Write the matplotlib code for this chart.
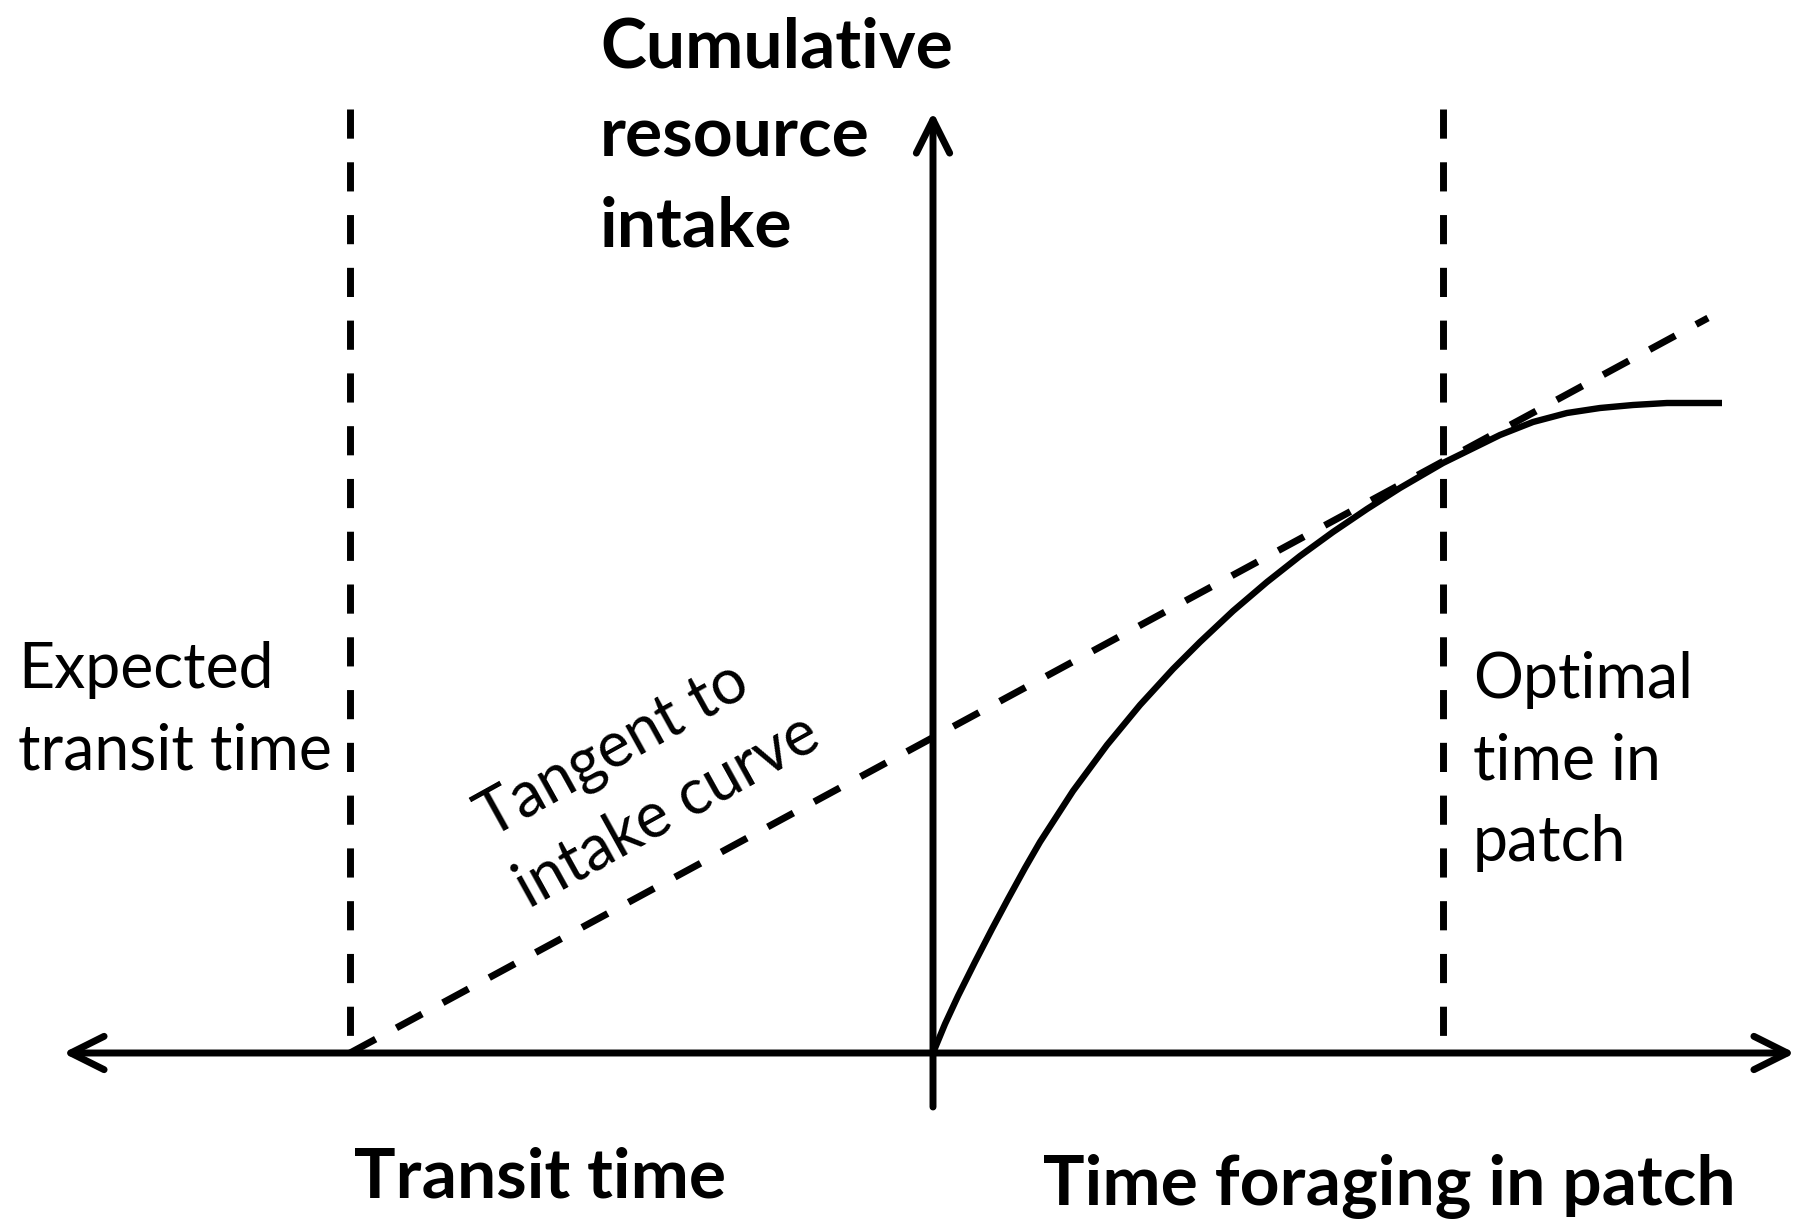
import matplotlib
matplotlib.use("Agg")
import matplotlib.pyplot as plt

plt.rcParams['lines.scale_dashes'] = False

# ---- data (time units, intake units) ----
curve_t = [0.00, 0.12, 0.25, 0.42, 0.59, 0.75, 0.92, 1.07, 1.40, 1.74, 2.07, 2.40, 2.67,
           3.00, 3.34, 3.67, 4.00, 4.34, 4.67, 5.10, 5.67, 6.00, 6.34, 6.67, 7.00, 7.34, 7.89]
curve_y = [0.00, 0.29, 0.57, 0.91, 1.24, 1.54, 1.85, 2.11, 2.62, 3.08, 3.48, 3.84, 4.11,
           4.42, 4.71, 4.97, 5.21, 5.44, 5.65, 5.90, 6.18, 6.31, 6.40, 6.45, 6.48, 6.50, 6.50]
tangent_t = [-5.83, 7.75]
tangent_y = [0.00, 7.35]
transit_t = -5.83
optimal_t = 5.10
vline_top = 9.44
xaxis_range = [-8.70, 8.62]
yaxis_range = [-0.54, 9.41]

fig = plt.figure(figsize=(17.98, 12.22), dpi=100)
ax = fig.add_axes([0, 0, 1, 1])
ax.set_xlim(-9.33, 8.65)
ax.set_ylim(-1.69, 10.53)
ax.axis('off')

K = 'black'
dash = (0, (21, 17))

# axes arrows
ax.annotate('', xy=(xaxis_range[0], 0), xytext=(xaxis_range[1], 0),
            arrowprops=dict(arrowstyle='<->,head_length=1.2,head_width=0.6', lw=5.0,
                            color=K, shrinkA=0, shrinkB=0, mutation_scale=20))
ax.annotate('', xy=(0, yaxis_range[1]), xytext=(0, yaxis_range[0]),
            arrowprops=dict(arrowstyle='->,head_length=1.2,head_width=0.6', lw=5.0,
                            color=K, shrinkA=0, shrinkB=0, mutation_scale=20))

# vertical dashed lines (drawn from the top down)
ax.plot([transit_t, transit_t], [vline_top, 0], color=K, lw=5.0, linestyle=dash)
ax.plot([optimal_t, optimal_t], [vline_top, 0], color=K, lw=5.0, linestyle=dash)

# tangent
ax.plot(tangent_t, tangent_y, color=K, lw=5.0, linestyle=dash)

# intake curve
ax.plot(curve_t, curve_y, color=K, lw=4.6, solid_capstyle='butt', solid_joinstyle='round')

fam = ['Lato', 'DejaVu Sans']
BS = 50
RS = 45

for txt, y in [('Cumulative', 9.86), ('resource', 8.96), ('intake', 8.06)]:
    ax.text(-3.33, y, txt, fontsize=BS, fontweight='bold', family=fam, ha='left', va='baseline')

ax.text(-3.93, -1.45, 'Transit time', fontsize=BS, fontweight='bold', family=fam,
        ha='center', va='baseline')
ax.text(4.56, -1.52, 'Time foraging in patch', fontsize=BS, fontweight='bold', family=fam,
        ha='center', va='baseline')

for txt, y in [('Expected', 3.65), ('transit time', 2.84)]:
    ax.text(-9.15, y, txt, fontsize=RS, family=fam, ha='left', va='baseline')

for txt, y in [('Optimal', 3.55), ('time in', 2.73), ('patch', 1.92)]:
    ax.text(5.40, y, txt, fontsize=RS, family=fam, ha='left', va='baseline')

ax.text(-4.43, 2.15, 'Tangent to', fontsize=RS, family=fam, ha='left', va='baseline',
        rotation=29, rotation_mode='anchor')
ax.text(-4.04, 1.44, 'intake curve', fontsize=RS, family=fam, ha='left', va='baseline',
        rotation=29, rotation_mode='anchor')

fig.savefig('out.png', dpi=100, facecolor='white')
